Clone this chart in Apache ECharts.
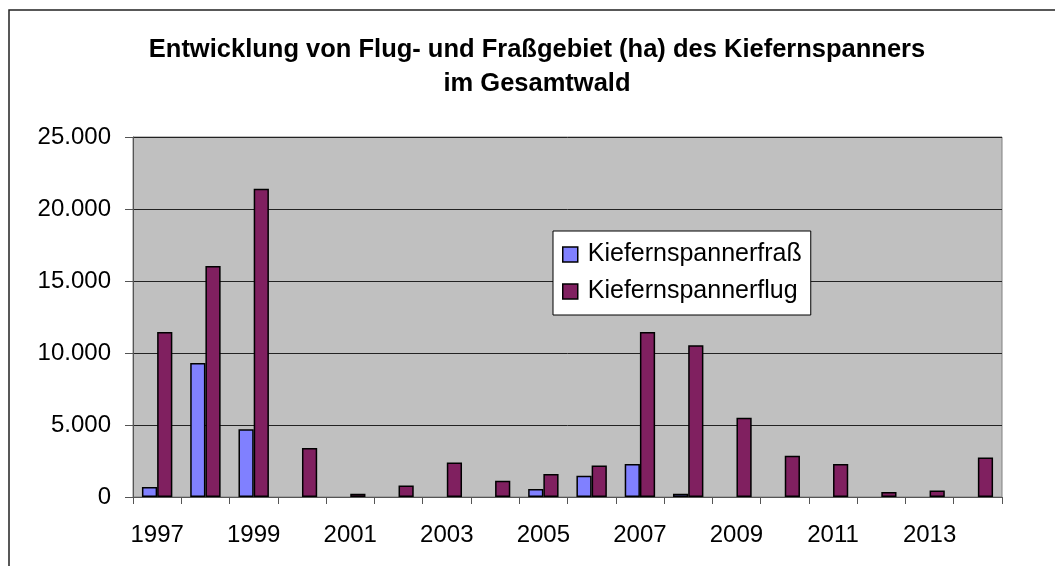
<!DOCTYPE html>
<html>
<head>
<meta charset="utf-8">
<script src="https://cdn.jsdelivr.net/npm/echarts@6/dist/echarts.min.js"></script>
<style>
  html, body { margin: 0; padding: 0; background: #fff; }
  #chart { width: 1055px; height: 566px; }
</style>
</head>
<body>
<div id="chart"></div>
<script>
var years = ['1997', '1998', '1999', '2000', '2001', '2002', '2003', '2004', '2005',
  '2006', '2007', '2008', '2009', '2010', '2011', '2012', '2013', '2014'];
// Kiefernspannerfraß (ha)
var frass = [700, 9300, 4700, 0, 0, 0, 0, 0, 550, 1480, 2300, 230, 0, 0, 0, 0, 0, 0];
// Kiefernspannerflug (ha)
var flug = [11450, 16050, 21400, 3400, 230, 800, 2400, 1130, 1600, 2180, 11450, 10530, 5500, 2870, 2300, 350, 460, 2750];

// zero years show no bar at all in the original
function noZero(arr) {
  return arr.map(function (v) { return v === 0 ? '-' : v; });
}

var chart = echarts.init(document.getElementById('chart'));

var font = 'Liberation Sans, Arial, sans-serif';

var option = {
  backgroundColor: '#ffffff',
  textStyle: { fontFamily: font, color: '#000' },
  title: {
    text: 'Entwicklung von Flug- und Fraßgebiet (ha) des Kiefernspanners\nim Gesamtwald',
    left: 532,
    textAlign: 'center',
    top: 28,
    textStyle: {
      fontFamily: font,
      fontSize: 25.5,
      fontWeight: 'bold',
      color: '#000',
      lineHeight: 34
    }
  },
  graphic: [{
    type: 'rect',
    shape: { x: 9, y: 10, width: 1070, height: 600 },
    style: { fill: 'none', stroke: '#222', lineWidth: 1.5 },
    silent: true
  }],
  legend: {
    orient: 'vertical',
    left: 553,
    top: 231,
    padding: [11, 9, 11, 9],
    backgroundColor: '#fff',
    borderColor: '#000',
    borderWidth: 1,
    icon: 'rect',
    itemWidth: 15,
    itemHeight: 15,
    itemGap: 12,
    itemStyle: { borderColor: '#000', borderWidth: 1.5 },
    textStyle: { fontFamily: font, fontSize: 25, color: '#000', padding: [0, 0, 0, 5] },
    data: ['Kiefernspannerfraß', 'Kiefernspannerflug']
  },
  grid: {
    left: 133,
    right: 53,
    top: 137,
    bottom: 69,
    show: true,
    backgroundColor: '#c0c0c0',
    borderColor: '#808080',
    borderWidth: 1
  },
  xAxis: {
    type: 'category',
    data: years,
    boundaryGap: true,
    axisLine: { lineStyle: { color: '#555', width: 1 } },
    axisTick: { show: true, length: 7, interval: 0, lineStyle: { color: '#555' } },
    axisLabel: { interval: 1, margin: 26, fontSize: 24, color: '#000', fontFamily: font }
  },
  yAxis: {
    type: 'value',
    min: 0,
    max: 25000,
    interval: 5000,
    axisLine: { show: true, lineStyle: { color: '#555', width: 1 } },
    axisTick: { show: true, length: 8, lineStyle: { color: '#555' } },
    axisLabel: {
      margin: 22,
      fontSize: 24,
      color: '#000',
      fontFamily: font,
      formatter: function (v) {
        return String(v).replace(/\B(?=(\d{3})+(?!\d))/g, '.');
      }
    },
    splitLine: { lineStyle: { color: '#222', width: 1 } }
  },
  series: [{
    name: 'Kiefernspannerfraß',
    type: 'bar',
    data: noZero(frass),
    barGap: '0%',
    barCategoryGap: '37%',
    itemStyle: { color: '#8080ff', borderColor: '#000', borderWidth: 1.5 }
  }, {
    name: 'Kiefernspannerflug',
    type: 'bar',
    data: noZero(flug),
    barGap: '0%',
    barCategoryGap: '37%',
    itemStyle: { color: '#802060', borderColor: '#000', borderWidth: 1.5 }
  }]
};

chart.setOption(option);
</script>
</body>
</html>
